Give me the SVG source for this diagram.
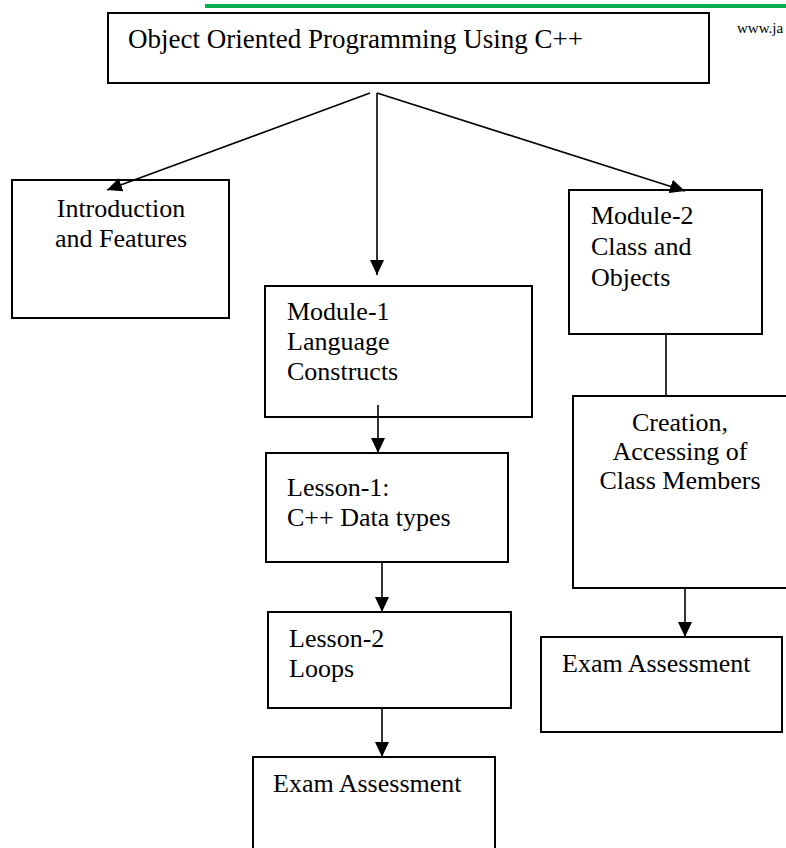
<svg xmlns="http://www.w3.org/2000/svg" width="786" height="848" viewBox="0 0 786 848">
  <style>
    .box { fill: #ffffff; stroke: #000000; stroke-width: 2; }
    .lbl { font-size: 26px; fill: #000000; }
    .title { font-size: 27px; }
    .mid { text-anchor: middle; }
    .edge { fill: none; stroke: #000000; stroke-width: 1.6; }
    .arrow { marker-end: url(#head); }
  </style>
  <defs>
    <marker id="head" markerUnits="userSpaceOnUse" markerWidth="15" markerHeight="14" refX="15" refY="7" orient="auto">
      <path d="M0,0 L15,7 L0,14 z" fill="#000000"/>
    </marker>
  </defs>

  <rect width="786" height="848" fill="#ffffff"/>

  <!-- page header rule and site name -->
  <line x1="205" y1="6" x2="786" y2="6" stroke="#00b050" stroke-width="4"/>
  <text x="737" y="33" font-family="Liberation Serif, Times New Roman, serif" font-size="15" fill="#000000">www.ja</text>

  <g font-family="Liberation Serif, Times New Roman, serif">
    <g id="root">
      <rect class="box" x="108" y="13" width="601" height="70"/>
      <text class="lbl title" x="128" y="48">Object Oriented Programming Using C++</text>
    </g>

    <g id="intro">
      <rect class="box" x="12" y="180" width="217" height="138"/>
      <text class="lbl mid" x="121" y="217">Introduction</text>
      <text class="lbl mid" x="121" y="247">and Features</text>
    </g>

    <g id="module1">
      <rect class="box" x="265" y="286" width="267" height="131"/>
      <text class="lbl" x="287" y="320">Module-1</text>
      <text class="lbl" x="287" y="350">Language</text>
      <text class="lbl" x="287" y="380">Constructs</text>
    </g>

    <g id="lesson1">
      <rect class="box" x="266" y="453" width="242" height="109"/>
      <text class="lbl" x="287" y="496">Lesson-1:</text>
      <text class="lbl" x="287" y="526">C++ Data types</text>
    </g>

    <g id="lesson2">
      <rect class="box" x="268" y="612" width="243" height="96"/>
      <text class="lbl" x="289" y="647">Lesson-2</text>
      <text class="lbl" x="289" y="677">Loops</text>
    </g>

    <g id="exam1">
      <rect class="box" x="253" y="757" width="242" height="100"/>
      <text class="lbl" x="273" y="792">Exam Assessment</text>
    </g>

    <g id="module2">
      <rect class="box" x="569" y="190" width="193" height="144"/>
      <text class="lbl" x="591" y="224">Module-2</text>
      <text class="lbl" x="591" y="255">Class and</text>
      <text class="lbl" x="591" y="286">Objects</text>
    </g>

    <g id="creation">
      <rect class="box" x="573" y="396" width="216" height="192"/>
      <text class="lbl mid" x="680" y="431">Creation,</text>
      <text class="lbl mid" x="680" y="460">Accessing of</text>
      <text class="lbl mid" x="680" y="489">Class Members</text>
    </g>

    <g id="exam2">
      <rect class="box" x="541" y="637" width="241" height="95"/>
      <text class="lbl" x="562" y="672">Exam Assessment</text>
    </g>
  </g>

  <!-- connectors, drawn over the boxes so the arrow tips stay visible -->
  <g id="connectors">
    <line class="edge arrow" x1="370" y1="93" x2="107" y2="190"/>
    <line class="edge arrow" x1="377" y1="93" x2="377" y2="275"/>
    <line class="edge arrow" x1="377" y1="93" x2="685" y2="191"/>
    <line class="edge arrow" x1="378" y1="405" x2="378" y2="453"/>
    <line class="edge arrow" x1="382" y1="562" x2="382" y2="612"/>
    <line class="edge arrow" x1="382" y1="708" x2="382" y2="757"/>
    <line class="edge" x1="666" y1="334" x2="666" y2="396"/>
    <line class="edge arrow" x1="685" y1="588" x2="685" y2="637"/>
  </g>
</svg>
